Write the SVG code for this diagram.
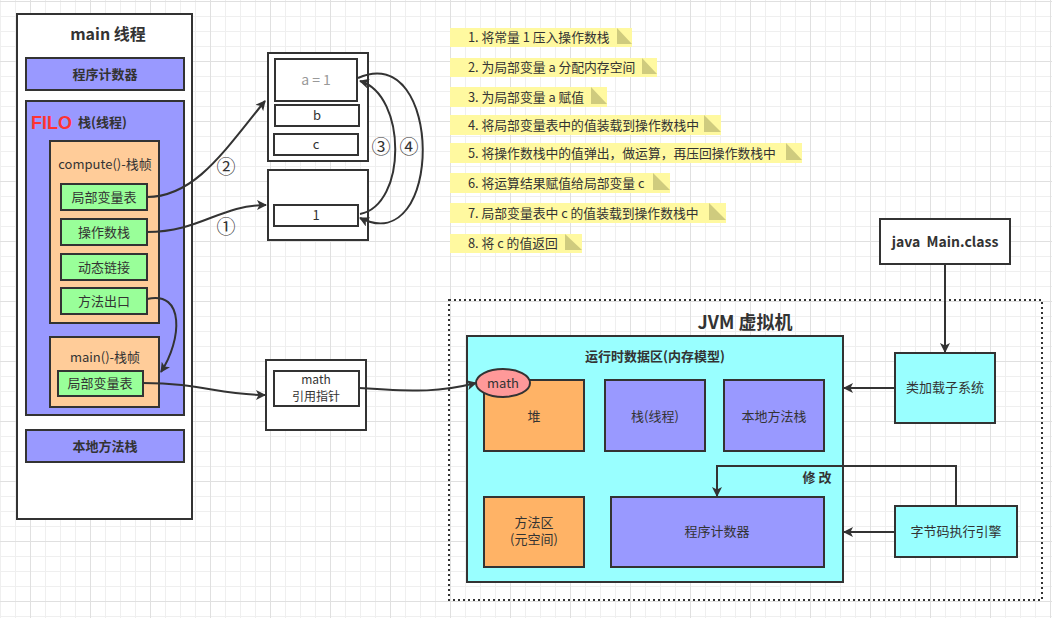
<svg xmlns="http://www.w3.org/2000/svg" width="1052" height="618" viewBox="0 0 1052 618">
<defs>
<pattern id="grid" x="0" y="0" width="60" height="60" patternUnits="userSpaceOnUse">
<path d="M0.5 0V60M15.5 0V60M45.5 0V60M0 16.5H60M0 31.5H60M0 46.5H60" stroke="#efefef" stroke-width="1" fill="none"/>
<path d="M30.5 0V60M0 1.5H60" stroke="#e0e0e0" stroke-width="1" fill="none"/>
</pattern>
<marker id="arr" viewBox="0 0 10 10" refX="9" refY="5" markerWidth="5" markerHeight="5" orient="auto" markerUnits="strokeWidth">
<path d="M0 0L10 5L0 10L2.5 5Z" fill="#333"/>
</marker>
<style>
.b{stroke:#333;stroke-width:2}
.w{fill:#fff}
.pu{fill:#9999FF}
.or{fill:#FFCC99}
.gr{fill:#99FF99}
.cy{fill:#99FFFF}
.hp{fill:#FFB366}
.t{font-family:"Noto Sans CJK SC","Liberation Sans",sans-serif;font-size:13px;fill:#333;text-anchor:middle}
.tb{font-weight:bold}
.n{font-family:"Noto Sans CJK SC","Liberation Sans",sans-serif;font-size:12.8px;fill:#333}
.ny{fill:#FFF9A0}
.nt{fill:#CFCB7E}
.c{fill:none;stroke:#333;stroke-width:2}
.cd{font-family:"Noto Sans CJK SC","DejaVu Sans",sans-serif;font-size:19px;fill:#333;text-anchor:middle}
</style>
</defs>
<rect width="1052" height="618" fill="#fff"/>
<rect width="1052" height="618" fill="url(#grid)"/>

<g id="main-thread">
<rect x="17" y="14" width="175" height="505" class="b w"/>
<text x="108" y="40" class="t tb" style="font-size:16px">main 线程</text>
</g>
<g id="pc-left">
<rect x="26" y="58" width="158" height="32" class="b pu"/>
<text x="105" y="79" class="t tb">程序计数器</text>
</g>
<g id="stack-left">
<rect x="26" y="101" width="158" height="314" class="b pu"/>
<text x="31" y="129" style="font-family:'Liberation Sans',sans-serif;font-size:18px;font-weight:bold;fill:#FF3333">FILO</text>
<text x="78" y="127" class="t tb" style="text-anchor:start">栈(线程)</text>
</g>
<g id="compute-frame">
<rect x="50" y="141" width="109" height="182" class="b or"/>
<text x="105" y="169" class="t">compute()-栈帧</text>
</g>
<g id="c-lvt">
<rect x="61" y="184" width="86" height="26" class="b gr"/>
<text x="104" y="202" class="t">局部变量表</text>
</g>
<g id="c-ops">
<rect x="61" y="219" width="86" height="26" class="b gr"/>
<text x="104" y="237" class="t">操作数栈</text>
</g>
<g id="c-dyn">
<rect x="61" y="254" width="86" height="26" class="b gr"/>
<text x="104" y="272" class="t">动态链接</text>
</g>
<g id="c-exit">
<rect x="61" y="288" width="86" height="26" class="b gr"/>
<text x="104" y="306" class="t">方法出口</text>
</g>
<g id="main-frame">
<rect x="50" y="337" width="109" height="70" class="b or"/>
<text x="105" y="362" class="t">main()-栈帧</text>
</g>
<g id="m-lvt">
<rect x="58" y="371" width="85" height="25" class="b gr"/>
<text x="100" y="388" class="t">局部变量表</text>
</g>
<g id="native-left">
<rect x="26" y="430" width="158" height="32" class="b pu"/>
<text x="105" y="451" class="t tb">本地方法栈</text>
</g>

<g id="lvt-box">
<rect x="268" y="53" width="100" height="108" class="b w"/>
<rect x="275" y="59" width="82" height="42" class="b w"/>
<text x="316" y="85" class="t" style="fill:#999;font-size:14px" xml:space="preserve">a = 1</text>
<rect x="275" y="105" width="84" height="21" class="b w"/>
<text x="317" y="120" class="t">b</text>
<rect x="274" y="134" width="84" height="21" class="b w"/>
<text x="316" y="149" class="t">c</text>
</g>
<g id="ops-box">
<rect x="268" y="170" width="100" height="70" class="b w"/>
<rect x="274" y="205" width="84" height="21" class="b w"/>
<text x="316" y="220" class="t">1</text>
</g>
<g id="ptr-box">
<rect x="266" y="360" width="100" height="70" class="b w"/>
<rect x="274" y="371" width="85" height="35" class="b w"/>
<text x="316" y="384" class="t" style="font-size:12px">math</text>
<text x="316" y="401" class="t" style="font-size:12px">引用指针</text>
</g>

<g id="notes">
<g id="note1"><rect x="450" y="28" width="182" height="19" class="ny"/><path d="M617 28L632 44H617Z" class="nt"/><text x="468" y="42" class="n">1. 将常量 1 压入操作数栈</text></g>
<g id="note2"><rect x="450" y="58" width="207" height="19" class="ny"/><path d="M642 58L657 74H642Z" class="nt"/><text x="468" y="72" class="n">2. 为局部变量 a 分配内存空间</text></g>
<g id="note3"><rect x="450" y="87" width="157" height="20" class="ny"/><path d="M591 87L607 104H591Z" class="nt"/><text x="468" y="102" class="n">3. 为局部变量 a 赋值</text></g>
<g id="note4"><rect x="450" y="115" width="271" height="20" class="ny"/><path d="M704 115L721 132H704Z" class="nt"/><text x="468" y="130" class="n">4. 将局部变量表中的值装载到操作数栈中</text></g>
<g id="note5"><rect x="450" y="143" width="352" height="20" class="ny"/><path d="M786 143L802 160H786Z" class="nt"/><text x="468" y="158" class="n">5. 将操作数栈中的值弹出，做运算，再压回操作数栈中</text></g>
<g id="note6"><rect x="450" y="173" width="220" height="20" class="ny"/><path d="M653 173L670 190H653Z" class="nt"/><text x="468" y="188" class="n">6. 将运算结果赋值给局部变量 c</text></g>
<g id="note7"><rect x="450" y="203" width="276" height="20" class="ny"/><path d="M709 203L726 220H709Z" class="nt"/><text x="468" y="218" class="n">7. 局部变量表中 c 的值装载到操作数栈中</text></g>
<g id="note8"><rect x="450" y="234" width="132" height="19" class="ny"/><path d="M565 234L582 250H565Z" class="nt"/><text x="468" y="248" class="n">8. 将 c 的值返回</text></g>
</g>

<g id="jvm">
<rect x="449" y="300" width="593" height="300" fill="none" stroke="#333" stroke-width="2" stroke-dasharray="2 3"/>
<text x="745" y="329" class="t tb" style="font-size:18px">JVM 虚拟机</text>
</g>
<g id="runtime-area">
<rect x="467" y="336" width="376" height="246" class="b cy"/>
<text x="655" y="361" class="t tb">运行时数据区(内存模型)</text>
<text x="817" y="482" class="t tb">修 改</text>
</g>
<g id="heap">
<rect x="484" y="380" width="100" height="71" class="b hp"/>
<text x="534" y="421" class="t">堆</text>
</g>
<g id="math-obj">
<ellipse cx="503" cy="383" rx="27" ry="14" fill="#FF9999" class="b"/>
<text x="503" y="388" class="t">math</text>
</g>
<g id="stack-r">
<rect x="605" y="380" width="100" height="71" class="b pu"/>
<text x="655" y="421" class="t">栈(线程)</text>
</g>
<g id="native-r">
<rect x="724" y="380" width="100" height="71" class="b pu"/>
<text x="774" y="421" class="t">本地方法栈</text>
</g>
<g id="method-area">
<rect x="484" y="497" width="100" height="70" class="b hp"/>
<text x="534" y="527" class="t">方法区</text>
<text x="534" y="544" class="t">(元空间)</text>
</g>
<g id="pc-r">
<rect x="611" y="497" width="213" height="70" class="b pu"/>
<text x="717" y="536" class="t">程序计数器</text>
</g>
<g id="classloader">
<rect x="895" y="353" width="100" height="70" class="b cy"/>
<text x="945" y="392" class="t">类加载子系统</text>
</g>
<g id="engine">
<rect x="895" y="506" width="122" height="51" class="b cy"/>
<text x="956" y="536" class="t">字节码执行引擎</text>
</g>
<g id="main-class">
<rect x="880" y="219" width="130" height="45" class="b w"/>
<text x="945" y="247" class="t tb" style="font-size:14px" xml:space="preserve">java  Main.class</text>
</g>

<g id="connectors">
<path d="M147 197C195 197 225 150 265 101" class="c" marker-end="url(#arr)"/>
<path d="M147 232C200 232 220 205 266 205" class="c" marker-end="url(#arr)"/>
<path d="M147 299C185 290 182 340 161 372" class="c" marker-end="url(#arr)"/>
<path d="M143 383C200 383 220 395 265 395" class="c" marker-end="url(#arr)"/>
<path d="M359 388C420 392 440 392 476 383" class="c" marker-end="url(#arr)"/>
<path d="M360 214C407 205 407 95 360 81" class="c" marker-end="url(#arr)"/>
<path d="M358 78C444 40 444 260 360 218" class="c" marker-end="url(#arr)"/>
<path d="M945 264V352" class="c" marker-end="url(#arr)"/>
<path d="M895 388H844" class="c" marker-end="url(#arr)"/>
<path d="M895 532H844" class="c" marker-end="url(#arr)"/>
<path d="M956 506V466H717V496" class="c" marker-end="url(#arr)"/>
<text x="226" y="174" class="cd">②</text>
<text x="226" y="234" class="cd">①</text>
<text x="381" y="154" class="cd">③</text>
<text x="409" y="154" class="cd">④</text>
</g>
</svg>
